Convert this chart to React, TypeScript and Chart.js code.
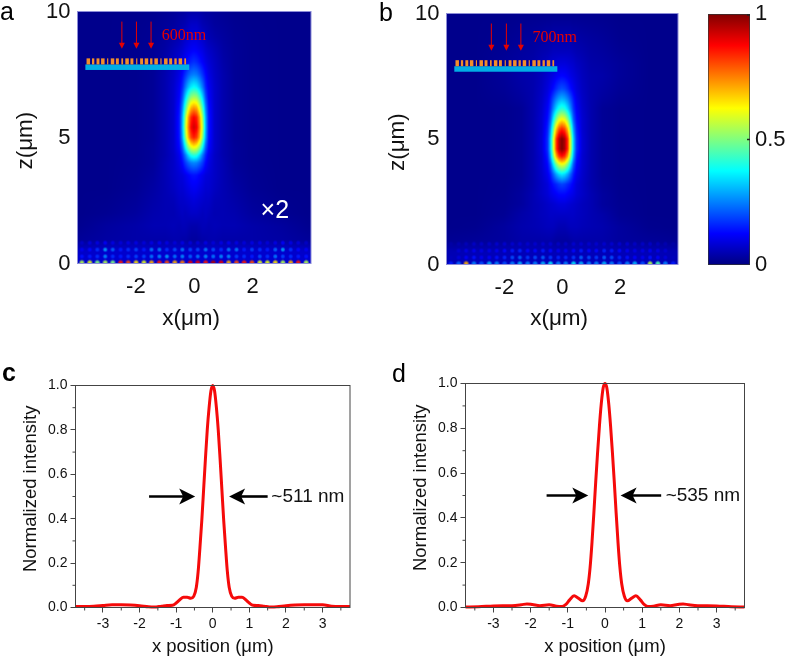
import React, { useEffect, useRef } from "react";
import { Chart, registerables } from "chart.js";

Chart.register(...registerables);

const SANS = "'Liberation Sans', Arial, sans-serif";
const SERIF = "'Liberation Serif', 'Times New Roman', serif";

// ---------- heat maps: x columns (mirrored about 0) and z rows ----------
const xCols = [0, 0.1, 0.2, 0.3, 0.4, 0.5, 0.7, 1, 1.4, 2, 3, 4];

const zRowsA = [0, 0.5, 0.9, 1.5, 2, 2.5, 3, 3.5, 4, 4.3, 4.6, 5, 5.4, 5.8, 6.2, 6.6, 7, 7.5, 8, 8.5, 9, 9.5, 10];
const fieldA = [
  [0.08, 0.08, 0.08, 0.08, 0.08, 0.08, 0.08, 0.08, 0.08, 0.08, 0.08, 0.08],
  [0.075, 0.075, 0.075, 0.075, 0.075, 0.075, 0.075, 0.075, 0.075, 0.075, 0.075, 0.07],
  [0.03, 0.03, 0.035, 0.04, 0.04, 0.045, 0.045, 0.04, 0.04, 0.04, 0.035, 0.025],
  [0.045, 0.045, 0.05, 0.055, 0.055, 0.05, 0.055, 0.05, 0.05, 0.04, 0.03, 0.015],
  [0.07, 0.07, 0.065, 0.06, 0.065, 0.06, 0.05, 0.05, 0.045, 0.03, 0.018, 0.012],
  [0.09, 0.085, 0.08, 0.075, 0.07, 0.07, 0.055, 0.05, 0.04, 0.025, 0.015, 0.012],
  [0.115, 0.11, 0.1, 0.09, 0.08, 0.08, 0.065, 0.05, 0.035, 0.02, 0.012, 0.012],
  [0.14, 0.135, 0.12, 0.105, 0.09, 0.085, 0.07, 0.05, 0.03, 0.018, 0.012, 0.012],
  [0.26, 0.25, 0.22, 0.18, 0.13, 0.1, 0.07, 0.05, 0.025, 0.016, 0.012, 0.012],
  [0.42, 0.4, 0.33, 0.24, 0.16, 0.11, 0.07, 0.045, 0.025, 0.015, 0.012, 0.012],
  [0.62, 0.59, 0.5, 0.36, 0.21, 0.13, 0.075, 0.045, 0.025, 0.015, 0.012, 0.012],
  [0.85, 0.81, 0.69, 0.5, 0.28, 0.145, 0.075, 0.045, 0.022, 0.015, 0.012, 0.012],
  [0.92, 0.88, 0.74, 0.55, 0.3, 0.15, 0.075, 0.045, 0.022, 0.015, 0.012, 0.012],
  [0.88, 0.84, 0.71, 0.52, 0.29, 0.15, 0.075, 0.045, 0.022, 0.015, 0.012, 0.012],
  [0.72, 0.69, 0.58, 0.43, 0.25, 0.14, 0.075, 0.045, 0.022, 0.015, 0.012, 0.012],
  [0.54, 0.52, 0.44, 0.33, 0.2, 0.125, 0.075, 0.045, 0.022, 0.015, 0.012, 0.012],
  [0.38, 0.36, 0.31, 0.24, 0.16, 0.115, 0.075, 0.045, 0.022, 0.015, 0.012, 0.012],
  [0.25, 0.24, 0.21, 0.17, 0.13, 0.1, 0.07, 0.045, 0.022, 0.015, 0.012, 0.012],
  [0.17, 0.16, 0.14, 0.12, 0.1, 0.085, 0.065, 0.04, 0.022, 0.015, 0.012, 0.012],
  [0.12, 0.115, 0.105, 0.095, 0.08, 0.07, 0.055, 0.035, 0.022, 0.015, 0.012, 0.012],
  [0.09, 0.09, 0.08, 0.07, 0.06, 0.05, 0.04, 0.03, 0.02, 0.015, 0.012, 0.012],
  [0.07, 0.07, 0.06, 0.05, 0.045, 0.04, 0.03, 0.025, 0.018, 0.014, 0.012, 0.012],
  [0.04, 0.04, 0.04, 0.035, 0.03, 0.03, 0.025, 0.02, 0.015, 0.013, 0.012, 0.012],
];

const zRowsB = [0, 0.5, 0.9, 1.5, 2, 2.4, 2.8, 3.2, 3.6, 4, 4.3, 4.6, 5, 5.4, 5.8, 6.2, 6.6, 7, 7.5, 8, 8.5, 9, 10];
const fieldB = [
  [0.06, 0.06, 0.06, 0.06, 0.06, 0.06, 0.06, 0.06, 0.06, 0.06, 0.06, 0.05],
  [0.055, 0.055, 0.055, 0.055, 0.055, 0.055, 0.055, 0.055, 0.055, 0.055, 0.055, 0.05],
  [0.03, 0.03, 0.03, 0.035, 0.04, 0.04, 0.04, 0.04, 0.04, 0.03, 0.025, 0.02],
  [0.05, 0.05, 0.055, 0.06, 0.06, 0.06, 0.055, 0.05, 0.045, 0.03, 0.015, 0.012],
  [0.07, 0.07, 0.07, 0.07, 0.07, 0.065, 0.06, 0.05, 0.04, 0.02, 0.012, 0.012],
  [0.09, 0.09, 0.085, 0.08, 0.075, 0.07, 0.06, 0.05, 0.03, 0.018, 0.012, 0.012],
  [0.13, 0.13, 0.12, 0.11, 0.1, 0.085, 0.07, 0.05, 0.03, 0.016, 0.012, 0.012],
  [0.19, 0.18, 0.16, 0.14, 0.115, 0.09, 0.07, 0.045, 0.025, 0.015, 0.012, 0.012],
  [0.36, 0.34, 0.29, 0.22, 0.15, 0.11, 0.075, 0.045, 0.022, 0.014, 0.012, 0.012],
  [0.62, 0.59, 0.5, 0.36, 0.21, 0.13, 0.08, 0.045, 0.022, 0.014, 0.012, 0.012],
  [0.86, 0.82, 0.7, 0.5, 0.28, 0.15, 0.08, 0.045, 0.022, 0.014, 0.012, 0.012],
  [1, 0.95, 0.82, 0.57, 0.32, 0.17, 0.085, 0.045, 0.022, 0.014, 0.012, 0.012],
  [1, 0.95, 0.82, 0.57, 0.32, 0.17, 0.085, 0.045, 0.022, 0.014, 0.012, 0.012],
  [0.84, 0.8, 0.68, 0.48, 0.27, 0.155, 0.08, 0.045, 0.022, 0.014, 0.012, 0.012],
  [0.62, 0.59, 0.5, 0.36, 0.21, 0.135, 0.08, 0.045, 0.022, 0.014, 0.012, 0.012],
  [0.42, 0.4, 0.34, 0.26, 0.17, 0.12, 0.075, 0.045, 0.022, 0.014, 0.012, 0.012],
  [0.3, 0.285, 0.25, 0.2, 0.145, 0.105, 0.07, 0.045, 0.03, 0.018, 0.012, 0.012],
  [0.2, 0.19, 0.165, 0.135, 0.11, 0.09, 0.065, 0.045, 0.035, 0.022, 0.012, 0.012],
  [0.13, 0.125, 0.115, 0.1, 0.09, 0.08, 0.06, 0.045, 0.04, 0.025, 0.012, 0.012],
  [0.09, 0.09, 0.085, 0.08, 0.075, 0.065, 0.055, 0.04, 0.035, 0.025, 0.012, 0.012],
  [0.06, 0.06, 0.06, 0.06, 0.055, 0.05, 0.045, 0.035, 0.03, 0.02, 0.012, 0.012],
  [0.045, 0.045, 0.045, 0.045, 0.04, 0.04, 0.035, 0.03, 0.025, 0.016, 0.012, 0.012],
  [0.015, 0.015, 0.015, 0.015, 0.015, 0.015, 0.015, 0.015, 0.014, 0.012, 0.012, 0.012],
];

// near-surface spots
const spotX = [-3.85, -3.58, -3.32, -3.05, -2.79, -2.52, -2.26, -1.99, -1.72, -1.46, -1.19, -0.93, -0.66, -0.4, -0.13, 0.13, 0.4, 0.66, 0.93, 1.19, 1.46, 1.72, 1.99, 2.26, 2.52, 2.79, 3.05, 3.32, 3.58, 3.85];
const spotZ = [0.03, 0.28, 0.55, 0.82];
const spotsA = [
  [0.55, 0.6, 0.5, 0.55, 0.5, 0.85, 0.8, 0.65, 0.6, 0.7, 0.85, 0.8, 0.7, 0.75, 0.9, 0.9, 0.85, 0.95, 0.9, 0.7, 0.8, 0.85, 0.8, 0.6, 0.6, 0.65, 0.55, 0.7, 0.85, 0.55],
  [0.14, 0.15, 0.17, 0.26, 0.17, 0.15, 0.17, 0.19, 0.19, 0.24, 0.26, 0.28, 0.24, 0.26, 0.22, 0.24, 0.26, 0.24, 0.26, 0.26, 0.19, 0.17, 0.15, 0.2, 0.17, 0.24, 0.19, 0.17, 0.15, 0.14],
  [0.11, 0.13, 0.17, 0.28, 0.22, 0.15, 0.17, 0.19, 0.15, 0.24, 0.24, 0.17, 0.2, 0.24, 0.19, 0.19, 0.24, 0.2, 0.17, 0.24, 0.24, 0.15, 0.19, 0.17, 0.15, 0.22, 0.28, 0.17, 0.13, 0.11],
  [0.07, 0.09, 0.1, 0.12, 0.1, 0.09, 0.1, 0.1, 0.09, 0.1, 0.11, 0.1, 0.09, 0.1, 0.09, 0.09, 0.1, 0.09, 0.1, 0.11, 0.1, 0.09, 0.1, 0.1, 0.09, 0.1, 0.12, 0.1, 0.09, 0.07],
];
const spotsB = [
  [0.15, 0.22, 0.7, 0.25, 0.2, 0.3, 0.25, 0.2, 0.25, 0.3, 0.25, 0.25, 0.3, 0.35, 0.25, 0.25, 0.35, 0.3, 0.25, 0.25, 0.3, 0.25, 0.2, 0.25, 0.3, 0.2, 0.55, 0.45, 0.25, 0.15],
  [0.06, 0.09, 0.12, 0.14, 0.11, 0.12, 0.14, 0.16, 0.2, 0.22, 0.18, 0.2, 0.22, 0.18, 0.16, 0.16, 0.18, 0.22, 0.2, 0.18, 0.22, 0.2, 0.16, 0.14, 0.12, 0.11, 0.14, 0.12, 0.09, 0.06],
  [0.05, 0.08, 0.1, 0.11, 0.1, 0.1, 0.11, 0.13, 0.15, 0.16, 0.13, 0.13, 0.15, 0.13, 0.11, 0.11, 0.13, 0.15, 0.13, 0.13, 0.16, 0.15, 0.13, 0.11, 0.1, 0.1, 0.11, 0.1, 0.08, 0.05],
  [0.04, 0.05, 0.06, 0.07, 0.07, 0.07, 0.08, 0.08, 0.08, 0.08, 0.08, 0.08, 0.08, 0.08, 0.07, 0.07, 0.08, 0.08, 0.08, 0.08, 0.08, 0.08, 0.08, 0.08, 0.07, 0.07, 0.07, 0.06, 0.05, 0.04],
];

const heatXTicks = [-2, 0, 2];
const heatZTicks = [0, 5, 10];
const barTicks = [0, 0.5, 1];

// device sketch (µm): pillar widths along the substrate
const pillarWidths = [0.12, 0.08, 0.1, 0.12, 0.04, 0.12, 0.1, 0.06, 0.12, 0.1, 0.04, 0.1, 0.12, 0.08, 0.12, 0.04, 0.12, 0.1, 0.08, 0.12, 0.06];

// ---------- line profiles ----------
const profileXC = [-3.75, -3.5, -3.25, -3, -2.75, -2.5, -2.25, -2, -1.75, -1.6, -1.4, -1.25, -1.1, -1, -0.9, -0.8, -0.7, -0.6, -0.52, -0.45, -0.4, -0.35, -0.3, -0.25, -0.2, -0.15, -0.1, -0.05, 0, 0.05, 0.1, 0.15, 0.2, 0.25, 0.3, 0.35, 0.4, 0.45, 0.52, 0.6, 0.7, 0.8, 0.9, 1, 1.1, 1.25, 1.4, 1.6, 1.75, 2, 2.25, 2.5, 2.75, 3, 3.25, 3.5, 3.75];
const profileYC = [0.005, 0.005, 0.006, 0.009, 0.012, 0.012, 0.011, 0.008, 0.003, 0.002, 0.006, 0.009, 0.01, 0.02, 0.035, 0.046, 0.046, 0.042, 0.05, 0.09, 0.16, 0.27, 0.39, 0.53, 0.67, 0.8, 0.9, 0.975, 1, 0.975, 0.9, 0.8, 0.67, 0.53, 0.39, 0.27, 0.16, 0.09, 0.05, 0.042, 0.046, 0.046, 0.035, 0.02, 0.01, 0.009, 0.006, 0.002, 0.003, 0.008, 0.011, 0.012, 0.012, 0.012, 0.006, 0.005, 0.005];
const profileXD = [-3.75, -3.4, -3, -2.75, -2.5, -2.25, -2.1, -1.95, -1.75, -1.5, -1.3, -1.15, -1.05, -0.95, -0.83, -0.72, -0.6, -0.52, -0.45, -0.4, -0.35, -0.3, -0.25, -0.2, -0.15, -0.1, -0.05, 0, 0.05, 0.1, 0.15, 0.2, 0.25, 0.3, 0.35, 0.4, 0.45, 0.52, 0.6, 0.72, 0.83, 0.95, 1.05, 1.15, 1.3, 1.5, 1.75, 1.95, 2.1, 2.25, 2.5, 2.75, 3, 3.4, 3.75];
const profileYD = [0.002, 0.003, 0.007, 0.008, 0.008, 0.012, 0.016, 0.013, 0.008, 0.012, 0.006, 0.005, 0.014, 0.034, 0.052, 0.042, 0.03, 0.05, 0.105, 0.18, 0.29, 0.42, 0.56, 0.69, 0.81, 0.91, 0.98, 1, 0.98, 0.91, 0.81, 0.69, 0.56, 0.42, 0.29, 0.18, 0.105, 0.05, 0.03, 0.042, 0.052, 0.034, 0.014, 0.005, 0.006, 0.012, 0.008, 0.013, 0.016, 0.012, 0.008, 0.008, 0.007, 0.003, 0.002];

const lineXTicks = [-3, -2, -1, 0, 1, 2, 3];
const lineXMinor = [-3.5, -2.5, -1.5, -0.5, 0.5, 1.5, 2.5, 3.5];
const lineYTicks = [0, 0.2, 0.4, 0.6, 0.8, 1];
const lineYMinor = [0.1, 0.3, 0.5, 0.7, 0.9];

// ---------- colour map ----------
const jetStops: [number, number, number, number][] = [
  [0, 0, 0, 128],
  [0.125, 0, 0, 255],
  [0.375, 0, 255, 255],
  [0.625, 255, 255, 0],
  [0.875, 255, 0, 0],
  [1, 128, 0, 0],
];
function jet(v: number): [number, number, number] {
  const t = Math.max(0, Math.min(1, v));
  for (let i = 1; i < jetStops.length; i++) {
    if (t <= jetStops[i][0]) {
      const a = jetStops[i - 1];
      const b = jetStops[i];
      const f = (t - a[0]) / (b[0] - a[0]);
      return [a[1] + (b[1] - a[1]) * f, a[2] + (b[2] - a[2]) * f, a[3] + (b[3] - a[3]) * f];
    }
  }
  return [128, 0, 0];
}

function bracket(arr: number[], v: number): [number, number] {
  let i = 0;
  while (i < arr.length - 2 && v > arr[i + 1]) i++;
  const f = Math.max(0, Math.min(1, (v - arr[i]) / (arr[i + 1] - arr[i])));
  return [i, f];
}

function heatPlugin(zRows: number[], field: number[][], spots: number[][]) {
  return {
    id: "heat",
    beforeDatasetsDraw(chart: any) {
      const { ctx, chartArea: a, scales } = chart;
      const W = Math.round(a.right - a.left);
      const H = Math.round(a.bottom - a.top);
      const off = document.createElement("canvas");
      off.width = W;
      off.height = H;
      const oc = off.getContext("2d")!;
      const img = oc.createImageData(W, H);
      for (let py = 0; py < H; py++) {
        const [zi, zf] = bracket(zRows, scales.y.getValueForPixel(a.top + py + 0.5));
        for (let px = 0; px < W; px++) {
          const [xi, xf] = bracket(xCols, Math.abs(scales.x.getValueForPixel(a.left + px + 0.5)));
          const v0 = field[zi][xi] * (1 - xf) + field[zi][xi + 1] * xf;
          const v1 = field[zi + 1][xi] * (1 - xf) + field[zi + 1][xi + 1] * xf;
          const [r, g, b] = jet(v0 * (1 - zf) + v1 * zf);
          const k = (py * W + px) * 4;
          img.data[k] = r;
          img.data[k + 1] = g;
          img.data[k + 2] = b;
          img.data[k + 3] = 255;
        }
      }
      oc.putImageData(img, 0, 0);
      spots.forEach((row, ri) => {
        row.forEach((v, i) => {
          const cx = scales.x.getPixelForValue(spotX[i]) - a.left;
          const cy = scales.y.getPixelForValue(spotZ[ri]) - a.top;
          const [r, g, b] = jet(v);
          const rad = ri === 0 ? 3.2 : 2.6;
          const gr = oc.createRadialGradient(cx, cy, 0, cx, cy, rad);
          gr.addColorStop(0, `rgba(${r | 0},${g | 0},${b | 0},1)`);
          gr.addColorStop(0.55, `rgba(${r | 0},${g | 0},${b | 0},0.75)`);
          gr.addColorStop(1, `rgba(${r | 0},${g | 0},${b | 0},0)`);
          oc.fillStyle = gr;
          oc.fillRect(cx - rad, cy - rad, rad * 2, rad * 2);
        });
      });
      ctx.save();
      ctx.beginPath();
      ctx.rect(a.left, a.top, a.right - a.left, a.bottom - a.top);
      ctx.clip();
      ctx.filter = "blur(0.6px)";
      ctx.drawImage(off, a.left, a.top, a.right - a.left, a.bottom - a.top);
      ctx.restore();
      ctx.filter = "none";
    },
  };
}

function sketchPlugin(opts: {
  letter: string;
  letterX: number;
  letterY: number;
  arrowsX: number[];
  label: string;
  labelX: number;
  labelZ: number;
  extra?: boolean;
}) {
  return {
    id: "sketch",
    afterDatasetsDraw(chart: any) {
      const { ctx, chartArea: a, scales } = chart;
      const X = (v: number) => scales.x.getPixelForValue(v);
      const Z = (v: number) => scales.y.getPixelForValue(v);
      ctx.save();
      // substrate and pillars
      ctx.fillStyle = "#00afe6";
      ctx.fillRect(X(-3.73), Z(7.9), X(-0.17) - X(-3.73), Z(7.68) - Z(7.9));
      ctx.fillStyle = "#f28e2b";
      pillarWidths.forEach((w, i) => {
        const c = -3.63 + i * 0.166;
        ctx.fillRect(X(c - w / 2), Z(8.14), X(c + w / 2) - X(c - w / 2), Z(7.9) - Z(8.14));
      });
      // incident arrows
      ctx.strokeStyle = "#e60000";
      ctx.fillStyle = "#e60000";
      ctx.lineWidth = 1;
      opts.arrowsX.forEach((x) => {
        const px = X(x);
        const top = Z(9.6);
        const tip = Z(8.52);
        ctx.beginPath();
        ctx.moveTo(px, top);
        ctx.lineTo(px, tip - 4);
        ctx.stroke();
        ctx.beginPath();
        ctx.moveTo(px, tip);
        ctx.lineTo(px - 3, tip - 6);
        ctx.lineTo(px + 3, tip - 6);
        ctx.closePath();
        ctx.fill();
      });
      ctx.font = `16px ${SERIF}`;
      ctx.textAlign = "left";
      ctx.textBaseline = "middle";
      ctx.fillText(opts.label, X(opts.labelX), Z(opts.labelZ));
      if (opts.extra) {
        ctx.fillStyle = "#ffffff";
        ctx.font = `25px ${SANS}`;
        ctx.textAlign = "center";
        ctx.fillText("×2", X(2.76), Z(2.06));
      }
      // frame
      ctx.strokeStyle = "#8c8cd8";
      ctx.lineWidth = 1;
      ctx.strokeRect(a.left, a.top, a.right - a.left, a.bottom - a.top);
      // panel letter
      ctx.fillStyle = "#000";
      ctx.font = `25px ${SANS}`;
      ctx.textAlign = "left";
      ctx.fillText(opts.letter, opts.letterX, opts.letterY);
      ctx.restore();
    },
  };
}

function linePlugin(opts: {
  letter: string;
  letterX: number;
  letterY: number;
  bold?: boolean;
  leftArrow: [number, number];
  rightArrow: [number, number];
  note: string;
  noteX: number;
}) {
  return {
    id: "lineExtras",
    afterDatasetsDraw(chart: any) {
      const { ctx, chartArea: a, scales } = chart;
      const X = (v: number) => scales.x.getPixelForValue(v);
      const Y = (v: number) => scales.y.getPixelForValue(v);
      ctx.save();
      ctx.strokeStyle = "#444";
      ctx.lineWidth = 1;
      ctx.strokeRect(a.left, a.top, a.right - a.left, a.bottom - a.top);
      ctx.beginPath();
      lineXMinor.forEach((v) => {
        ctx.moveTo(X(v), a.bottom);
        ctx.lineTo(X(v), a.bottom + 3);
      });
      lineYMinor.forEach((v) => {
        ctx.moveTo(a.left, Y(v));
        ctx.lineTo(a.left - 3, Y(v));
      });
      ctx.stroke();
      const arrow = (from: number, to: number) => {
        const x0 = X(from);
        const x1 = X(to);
        const y = Y(0.5);
        const s = Math.sign(x1 - x0);
        ctx.strokeStyle = "#000";
        ctx.fillStyle = "#000";
        ctx.lineWidth = 2.6;
        ctx.beginPath();
        ctx.moveTo(x0, y);
        ctx.lineTo(x1 - s * 8, y);
        ctx.stroke();
        ctx.beginPath();
        ctx.moveTo(x1, y);
        ctx.lineTo(x1 - s * 16, y - 8);
        ctx.lineTo(x1 - s * 12, y);
        ctx.lineTo(x1 - s * 16, y + 8);
        ctx.closePath();
        ctx.fill();
      };
      arrow(opts.leftArrow[0], opts.leftArrow[1]);
      arrow(opts.rightArrow[0], opts.rightArrow[1]);
      ctx.fillStyle = "#111";
      ctx.font = `19px ${SANS}`;
      ctx.textAlign = "left";
      ctx.textBaseline = "middle";
      ctx.fillText(opts.note, X(opts.noteX), Y(0.5));
      ctx.fillStyle = "#000";
      ctx.font = `${opts.bold ? "bold " : ""}25px ${SANS}`;
      ctx.fillText(opts.letter, opts.letterX, opts.letterY);
      ctx.restore();
    },
  };
}

function fixedWidth(w: number) {
  return (s: any) => {
    s.width = w;
  };
}
function fixedHeight(h: number) {
  return (s: any) => {
    s.height = h;
  };
}
function setTicks(vals: number[]) {
  return (s: any) => {
    s.ticks = vals.map((value) => ({ value }));
  };
}

function makeHeat(
  canvas: HTMLCanvasElement,
  box: { l: number; t: number; w: number; h: number },
  plot: { l: number; t: number; r: number; b: number },
  zRows: number[],
  field: number[][],
  spots: number[][],
  sketch: any,
  titlePadY: number
) {
  const cells: { x: number; y: number }[] = [];
  zRows.forEach((z) =>
    xCols.forEach((x) => {
      cells.push({ x, y: z });
      if (x !== 0) cells.push({ x: -x, y: z });
    })
  );
  return new Chart(canvas, {
    type: "scatter",
    data: { datasets: [{ label: "intensity", data: cells, pointRadius: 0 }] },
    options: {
      animation: false,
      responsive: false,
      devicePixelRatio: 1,
      layout: {
        padding: { left: 0, top: plot.t - box.t, right: box.l + box.w - plot.r, bottom: 0 },
      },
      plugins: { legend: { display: false }, tooltip: { enabled: false } },
      scales: {
        x: {
          type: "linear",
          min: -4,
          max: 4,
          afterFit: fixedHeight(box.t + box.h - plot.b),
          afterBuildTicks: setTicks(heatXTicks),
          grid: { display: false, drawTicks: false },
          border: { display: false },
          ticks: { color: "#111", font: { family: SANS, size: 22 }, padding: 10, maxRotation: 0, autoSkip: false },
          title: { display: true, text: "x(μm)\u00a0", color: "#111", font: { family: SANS, size: 22.5 }, padding: { top: 0, bottom: 8 } },
        },
        y: {
          type: "linear",
          min: 0,
          max: 10,
          afterFit: fixedWidth(plot.l - box.l),
          afterBuildTicks: setTicks(heatZTicks),
          grid: { display: false, drawTicks: false },
          border: { display: false },
          ticks: { color: "#111", font: { family: SANS, size: 22 }, padding: 7, autoSkip: false },
          title: { display: true, text: "z(μm)\u00a0", color: "#111", font: { family: SANS, size: 22.5 }, padding: { top: titlePadY, bottom: 0 } },
        },
      },
    },
    plugins: [heatPlugin(zRows, field, spots), sketch],
  } as any);
}

function makeLine(
  canvas: HTMLCanvasElement,
  box: { l: number; t: number; w: number; h: number },
  plot: { l: number; t: number; r: number; b: number },
  xs: number[],
  ys: number[],
  extras: any,
  titlePadY: number
) {
  return new Chart(canvas, {
    type: "line",
    data: {
      datasets: [
        {
          label: "Normalized intensity",
          data: xs.map((x, i) => ({ x, y: ys[i] })),
          borderColor: "#f50a0a",
          borderWidth: 3,
          pointRadius: 0,
          cubicInterpolationMode: "monotone",
          clip: 3,
        },
      ],
    },
    options: {
      animation: false,
      responsive: false,
      devicePixelRatio: 1,
      layout: {
        padding: { left: 0, top: plot.t - box.t, right: box.l + box.w - plot.r, bottom: 0 },
      },
      plugins: { legend: { display: false }, tooltip: { enabled: false } },
      scales: {
        x: {
          type: "linear",
          min: -3.75,
          max: 3.75,
          afterFit: fixedHeight(box.t + box.h - plot.b),
          afterBuildTicks: setTicks(lineXTicks),
          grid: { drawOnChartArea: false, tickLength: 5, tickColor: "#444" },
          border: { display: false },
          ticks: { color: "#111", font: { family: SANS, size: 14 }, padding: 3, maxRotation: 0, autoSkip: false },
          title: { display: true, text: "x position (μm)", color: "#111", font: { family: SANS, size: 18.5 }, padding: { top: 0, bottom: 1 } },
        },
        y: {
          type: "linear",
          min: 0,
          max: 1,
          afterFit: fixedWidth(plot.l - box.l),
          afterBuildTicks: setTicks(lineYTicks),
          grid: { drawOnChartArea: false, tickLength: 5, tickColor: "#444" },
          border: { display: false },
          ticks: { color: "#111", font: { family: SANS, size: 14 }, padding: 3, autoSkip: false, callback: (v: any) => Number(v).toFixed(1) },
          title: { display: true, text: "\u00a0\u00a0\u00a0Normalized intensity", color: "#111", font: { family: SANS, size: 18.5 }, padding: { top: titlePadY, bottom: 0 } },
        },
      },
    },
    plugins: [extras],
  } as any);
}

function makeBar(canvas: HTMLCanvasElement) {
  return new Chart(canvas, {
    type: "bar",
    data: {
      labels: ["scale"],
      datasets: [
        {
          label: "colour scale",
          data: [[0, 1]],
          barPercentage: 1,
          categoryPercentage: 1,
          borderColor: "#333",
          borderWidth: 1,
          borderSkipped: false,
          backgroundColor: (c: any) => {
            const { chart } = c;
            const a = chart.chartArea;
            if (!a) return "#0000ff";
            const g = chart.ctx.createLinearGradient(0, a.bottom, 0, a.top);
            jetStops.forEach((s) => g.addColorStop(s[0], `rgb(${s[1]},${s[2]},${s[3]})`));
            return g;
          },
        },
      ],
    },
    options: {
      animation: false,
      responsive: false,
      devicePixelRatio: 1,
      layout: { padding: { left: 18, top: 34, right: 0, bottom: 35 } },
      plugins: { legend: { display: false }, tooltip: { enabled: false } },
      scales: {
        x: { display: false },
        y: {
          position: "right",
          min: 0,
          max: 1,
          afterFit: fixedWidth(37),
          afterBuildTicks: setTicks(barTicks),
          grid: { display: false, drawTicks: false },
          border: { display: false },
          ticks: { color: "#111", font: { family: SANS, size: 22 }, padding: 5, autoSkip: false, callback: (v: any) => String(v) },
        },
      },
    },
    plugins: [
      {
        id: "barTicks",
        afterDatasetsDraw(chart: any) {
          const { ctx, chartArea: a, scales } = chart;
          ctx.save();
          ctx.strokeStyle = "#222";
          ctx.lineWidth = 1.4;
          ctx.beginPath();
          [0.5, 1].forEach((v) => {
            const y = scales.y.getPixelForValue(v);
            ctx.moveTo(a.right, y + (v === 1 ? 1 : 0));
            ctx.lineTo(a.right - 3, y + (v === 1 ? 1 : 0));
          });
          ctx.stroke();
          ctx.restore();
        },
      },
    ],
  } as any);
}

const boxes = {
  a: { l: 0, t: -20, w: 345, h: 360 },
  b: { l: 370, t: -20, w: 320, h: 360 },
  bar: { l: 690, t: -20, w: 97, h: 320 },
  c: { l: 0, t: 360, w: 365, h: 299 },
  d: { l: 380, t: 360, w: 380, h: 299 },
};

export default function App() {
  const aRef = useRef<HTMLCanvasElement>(null);
  const bRef = useRef<HTMLCanvasElement>(null);
  const barRef = useRef<HTMLCanvasElement>(null);
  const cRef = useRef<HTMLCanvasElement>(null);
  const dRef = useRef<HTMLCanvasElement>(null);

  useEffect(() => {
    document.body.style.background = "#fff";
    const charts = [
      makeHeat(
        aRef.current!,
        boxes.a,
        { l: 77.5, t: 11.5, r: 311, b: 263.5 },
        zRowsA,
        fieldA,
        spotsA,
        sketchPlugin({ letter: "a", letterX: 0, letterY: 33, arrowsX: [-2.48, -1.98, -1.48], label: "600nm", labelX: -1.11, labelZ: 9.05, extra: true }),
        12
      ),
      makeHeat(
        bRef.current!,
        boxes.b,
        { l: 446.5, t: 13.5, r: 678, b: 264.5 },
        zRowsB,
        fieldB,
        spotsB,
        sketchPlugin({ letter: "b", letterX: 9, letterY: 34, arrowsX: [-2.45, -1.93, -1.43], label: "700nm", labelX: -1.03, labelZ: 9.05 }),
        14
      ),
      makeBar(barRef.current!),
      makeLine(
        cRef.current!,
        boxes.c,
        { l: 75.5, t: 385.5, r: 350, b: 607.5 },
        profileXC,
        profileYC,
        linePlugin({ letter: "c", letterX: 2, letterY: 14, bold: true, leftArrow: [-1.74, -0.48], rightArrow: [1.5, 0.447], note: "~511 nm", noteX: 1.6 }),
        20
      ),
      makeLine(
        dRef.current!,
        boxes.d,
        { l: 465.5, t: 383.5, r: 744.5, b: 607.5 },
        profileXD,
        profileYD,
        linePlugin({ letter: "d", letterX: 12, letterY: 15, leftArrow: [-1.57, -0.45], rightArrow: [1.51, 0.42], note: "~535 nm", noteX: 1.63 }),
        30
      ),
    ];
    return () => charts.forEach((c) => c.destroy());
  }, []);

  const place = (b: { l: number; t: number; w: number; h: number }): React.CSSProperties => ({
    position: "absolute",
    left: b.l,
    top: b.t,
    width: b.w,
    height: b.h,
  });

  return (
    <div style={{ position: "absolute", left: 0, top: 0, width: 787, height: 659, background: "#fff", overflow: "hidden" }}>
      <canvas ref={aRef} width={boxes.a.w} height={boxes.a.h} style={place(boxes.a)} />
      <canvas ref={bRef} width={boxes.b.w} height={boxes.b.h} style={place(boxes.b)} />
      <canvas ref={barRef} width={boxes.bar.w} height={boxes.bar.h} style={place(boxes.bar)} />
      <canvas ref={cRef} width={boxes.c.w} height={boxes.c.h} style={place(boxes.c)} />
      <canvas ref={dRef} width={boxes.d.w} height={boxes.d.h} style={place(boxes.d)} />
    </div>
  );
}
